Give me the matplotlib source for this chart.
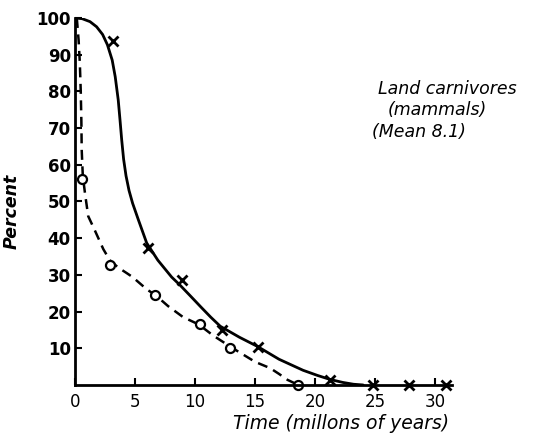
import matplotlib
matplotlib.use("Agg")
import matplotlib.pyplot as plt

# Observed points (time in millions of years, percent)
cross_t = [3.2, 6.1, 8.9, 12.25, 15.25, 21.25, 24.8, 27.8, 30.9]
cross_p = [93.7, 37.3, 28.6, 15.0, 10.4, 1.4, 0, 0, 0]
circle_t = [0.6, 2.9, 6.7, 10.4, 12.9, 18.6]
circle_p = [56.0, 32.7, 24.5, 16.6, 10.2, 0]

# Fitted curves
solid_t = [0, 0.6, 1.25, 1.8, 2.3, 2.7, 3.1, 3.35, 3.6, 3.75, 3.89, 4.05, 4.25, 4.5,
           4.8, 5.28, 5.97, 6.9, 8.05, 8.75, 9.6, 10.5, 11.3, 12.1, 13.7, 15.2, 17.0,
           19.0, 20.2, 21.25, 22.3, 23.2, 24.0]
solid_p = [100, 99.8, 99.0, 97.6, 95.5, 92.7, 88.5, 84.0, 77.7, 72.2, 66.8, 61.5,
           57.0, 53.0, 49.5, 45.0, 38.7, 34.0, 29.4, 27.2, 24.3, 21.2, 18.5, 16.0,
           13.0, 10.5, 7.0, 4.0, 2.6, 1.5, 0.7, 0.2, 0]
dash_t = [0.15, 0.3, 0.4, 0.48, 0.53, 0.56, 0.65, 0.83, 1.1, 1.67, 2.36, 2.9, 3.6,
          4.3, 4.8, 6.0, 6.7, 7.75, 9.0, 10.3, 11.5, 13.0, 14.0, 15.0, 16.25, 17.0,
          17.7, 18.6]
dash_p = [100, 94, 88, 80, 72, 64, 57, 52.3, 46, 42, 37, 34, 32, 30.5, 29.4, 26,
          24.5, 21.5, 18.5, 16.5, 13.5, 10.3, 8.3, 6.3, 4.6, 3.0, 1.4, 0]

xticks = [0, 5, 10, 15, 20, 25, 30]
yticks = [10, 20, 30, 40, 50, 60, 70, 80, 90, 100]

W, H = 533, 433
fig = plt.figure(figsize=(W / 100, H / 100), dpi=100)
ax = fig.add_axes([0.1407, 0.1109, 0.7073, 0.8476])

ax.plot(solid_t, solid_p, color="black", lw=2.0, solid_capstyle="round")
ax.plot(dash_t, dash_p, color="black", lw=1.8, dashes=(4, 2.6))
ax.plot(cross_t, cross_p, "x", color="black", ms=7, mew=2, clip_on=False)
ax.plot(circle_t, circle_p, "o", color="black", mfc="white", ms=6.5, mew=1.6,
        clip_on=False)

ax.set_xlim(0, 31.4)
ax.set_ylim(0, 100)
for s in ["top", "right"]:
    ax.spines[s].set_visible(False)
for s in ["left", "bottom"]:
    ax.spines[s].set_linewidth(2)

ax.set_xticks(xticks)
ax.set_yticks(yticks)
ax.tick_params(axis="both", direction="in", length=5, width=1.5)
ax.tick_params(axis="x", pad=6, labelsize=12)
ax.tick_params(axis="y", pad=3, labelsize=12)
for lbl in ax.get_yticklabels():
    lbl.set_fontweight("bold")

ax.set_xlabel("Time (millons of years)", fontsize=13.5, style="italic")
ax.xaxis.set_label_coords(0.706, -0.078)
ax.set_ylabel("Percent", fontsize=12.5, style="italic", fontweight="bold")
ax.yaxis.set_label_coords(-0.143, 0.474)

fig.text(378 / W, 1 - 89 / H, "Land carnivores", fontsize=12.5, style="italic",
         ha="left", va="center")
fig.text(388 / W, 1 - 110 / H, "(mammals)", fontsize=12.5, style="italic",
         ha="left", va="center")
fig.text(372 / W, 1 - 132 / H, "(Mean 8.1)", fontsize=12.5, style="italic",
         ha="left", va="center")

fig.savefig("out.png", dpi=100)
